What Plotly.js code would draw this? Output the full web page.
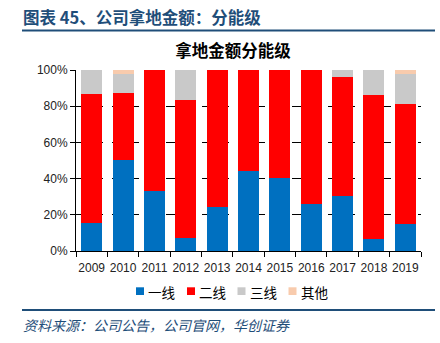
<!DOCTYPE html>
<html><head><meta charset="utf-8">
<script src="https://cdn.plot.ly/plotly-3.0.1.min.js"></script>
<style>html,body{margin:0;padding:0;background:#fff}#c{width:440px;height:343px}</style>
</head><body><div id="c"></div>
<script>
const years = ['2009','2010','2011','2012','2013','2014','2015','2016','2017','2018','2019'];
const tier1 = [15.7, 50.4, 33.4, 7.0, 24.5, 44.4, 40.4, 26.2, 30.4, 6.6, 14.9];
const tier2 = [71.0, 36.9, 66.6, 76.7, 75.5, 55.6, 59.6, 73.8, 65.5, 79.6, 66.1];
const tier3 = [13.3, 10.7, 0, 16.3, 0, 0, 0, 0, 4.1, 13.8, 16.6];
const other = [0, 2.0, 0, 0, 0, 0, 0, 0, 0, 0, 2.4];
const names = ['一线','二线','三线','其他'];
const colors = ['#0070C0','#FF0000','#C9C9C9','#F8CBAD'];
const series = [tier1, tier2, tier3, other];
const traces = series.map((v,i)=>({type:'bar', x:years, y:v, name:names[i], marker:{color:colors[i]}, hoverinfo:'skip', showlegend:false}));

// plot area: x 76..421 (345px), y 70..251 (181px)
const PX = px => (px-76)/345;
const PY = py => (251-py)/181;

const legendX = [136, 187, 237.5, 288.5];
const legendShapes = names.map((n,i)=>({type:'rect', xref:'paper', yref:'paper', x0:PX(legendX[i]), x1:PX(legendX[i]+8), y0:PY(295), y1:PY(287.3), fillcolor:colors[i], line:{width:0}}));
const legendAnn = names.map((n,i)=>({xref:'paper', yref:'paper', x:PX(legendX[i]+10), xanchor:'left', y:PY(291.5), yanchor:'middle', text:n, showarrow:false, font:{family:'Noto Sans CJK SC', size:13.5, color:'#000'}}));

const layout = {
  width:440, height:343, barmode:'stack', bargap:0.33,
  margin:{l:76, r:19, t:70, b:92},
  paper_bgcolor:'#fff', plot_bgcolor:'#fff',
  font:{family:'Liberation Sans, Arial, sans-serif', size:12, color:'#000'},
  xaxis:{type:'category', showline:true, linecolor:'#000', linewidth:1, ticks:'outside', tickson:'boundaries', ticklen:5, tickcolor:'#000', showgrid:false, tickangle:0, ticklabelstandoff:6, tickfont:{size:12, color:'#222'}},
  yaxis:{range:[0,100], dtick:20, ticksuffix:'%', showline:true, linecolor:'#000', linewidth:1, ticks:'outside', ticklen:5, tickcolor:'#000', showgrid:true, gridcolor:'#000', griddash:'dash', gridwidth:1, zeroline:false, tickfont:{size:12, color:'#222'}},
  showlegend:false,
  title:{text:'<b>拿地金额分能级</b>', x:233/440, xanchor:'center', y:1-51/343, yanchor:'middle', font:{family:'Noto Sans CJK SC', size:16.5, color:'#000'}},
  annotations:[
    {xref:'paper', yref:'paper', x:PX(21), xanchor:'left', y:PY(17), yanchor:'middle', text:'<b>图表 45、公司拿地金额：分能级</b>', showarrow:false, font:{family:'Noto Sans CJK SC', size:16.5, color:'#1F4E79'}},
    {xref:'paper', yref:'paper', x:PX(21), xanchor:'left', y:PY(325), yanchor:'middle', text:'<i>资料来源：公司公告，公司官网，华创证券</i>', showarrow:false, font:{family:'Noto Sans CJK SC', size:14, color:'#1F4E79'}}
  ].concat(legendAnn),
  shapes:[
    {type:'line', xref:'paper', yref:'paper', x0:PX(22), x1:PX(435), y0:PY(30.5), y1:PY(30.5), line:{color:'#1F4E79', width:2}},
    {type:'line', xref:'paper', yref:'paper', x0:PX(22), x1:PX(435), y0:PY(310), y1:PY(310), line:{color:'#1F4E79', width:2}}
  ].concat(legendShapes)
};
Plotly.newPlot('c', traces, layout, {staticPlot:true, displayModeBar:false});
</script></body></html>
